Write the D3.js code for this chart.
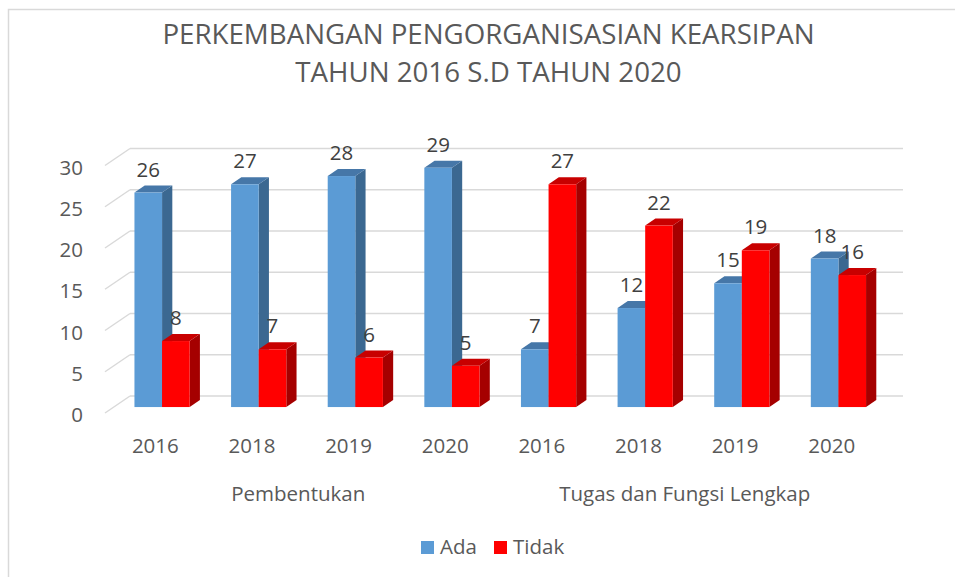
<!DOCTYPE html>
<html><head><meta charset="utf-8">
<script src="https://cdn.jsdelivr.net/npm/d3@7"></script>
<style>
html,body{margin:0;padding:0;background:#fff;}
svg{display:block;}
text{font-family:"Open Sans",sans-serif;}
</style></head>
<body>
<svg id="chart" width="955" height="577"></svg>
<script>
const titleLines = ["PERKEMBANGAN PENGORGANISASIAN KEARSIPAN", "TAHUN 2016 S.D TAHUN 2020"];
const categories = ["2016","2018","2019","2020","2016","2018","2019","2020"];
const groups = ["Pembentukan","Tugas dan Fungsi Lengkap"];
const groupSize = [4,4];
const seriesNames = ["Ada","Tidak"];
const ada = [26,27,28,29,7,12,15,18];
const tidak = [8,7,6,5,27,22,19,16];
const yTicks = [0,5,10,15,20,25,30];

const colors = {
  Ada:   {front:"#5b9bd5", side:"#3b6891", top:"#4677a8"},
  Tidak: {front:"#ff0000", side:"#a50000", top:"#c80000"}
};

const svg = d3.select("#chart");

// outer frame (only top/left visible in the reference)
svg.append("rect").attr("x",8.5).attr("y",9.5).attr("width",960).attr("height",600)
  .attr("fill","none").attr("stroke","#d9d9d9").attr("stroke-width",1.5);

// title
const title = svg.append("g");
titleLines.forEach((t,i)=>{
  title.append("text").attr("x",488.5).attr("y",43.5 + i*38.5)
    .attr("text-anchor","middle").attr("font-size",27.7).attr("fill","#595959").text(t);
});

// 3D geometry
const depth = {dx:25, dy:-17};
const fFront = 0.35, fBack = 0.76;

const x = d3.scaleBand().domain(d3.range(categories.length)).range([105, 878]).padding(0);
const xs = d3.scaleBand().domain(seriesNames).range([0, x.bandwidth()]).paddingInner(0).paddingOuter(0.75);
const y = d3.scaleLinear().domain([0,30]).range([413, 165.5]);

// gridlines on back wall + diagonals on left side wall
const grid = svg.append("g").attr("stroke","#d9d9d9").attr("stroke-width",1.5).attr("fill","none");
yTicks.forEach(v=>{
  grid.append("line")
    .attr("x1",x.range()[0]+depth.dx).attr("x2",x.range()[1]+depth.dx)
    .attr("y1",y(v)+depth.dy).attr("y2",y(v)+depth.dy);
  grid.append("line")
    .attr("x1",x.range()[0]).attr("y1",y(v))
    .attr("x2",x.range()[0]+depth.dx).attr("y2",y(v)+depth.dy);
});

// y axis labels
const yAxis = svg.append("g").attr("transform","translate(105,2)")
  .call(d3.axisLeft(y).tickValues(yTicks).tickSize(0).tickPadding(22));
yAxis.select(".domain").remove();
yAxis.selectAll("text").attr("font-size",20.5).attr("fill","#595959").attr("font-family","'Open Sans',sans-serif");

// x axis labels
const xAxis = svg.append("g").attr("transform","translate(2,413)")
  .call(d3.axisBottom(x).tickFormat(i=>categories[i]).tickSize(0).tickPadding(25));
xAxis.select(".domain").remove();
xAxis.selectAll("text").attr("font-size",20.5).attr("fill","#595959").attr("font-family","'Open Sans',sans-serif");

// group labels
let start = 0;
groups.forEach((g,i)=>{
  const a = x(start), b = x(start+groupSize[i]-1) + x.bandwidth();
  svg.append("text").attr("x",(a+b)/2).attr("y",501).attr("text-anchor","middle")
    .attr("font-size",20.5).attr("fill","#595959").text(g);
  start += groupSize[i];
});

// bars
const data = [];
categories.forEach((c,i)=>{
  data.push({i, s:"Ada", v:ada[i]});
  data.push({i, s:"Tidak", v:tidak[i]});
});
const bx = d => x(d.i) + xs(d.s) + depth.dx*fFront;
const by = v => y(v) + depth.dy*fFront;
const ddx = depth.dx*(fBack-fFront), ddy = depth.dy*(fBack-fFront);
const w = xs.bandwidth();

const bars = svg.append("g");
data.forEach(d=>{
  const x0 = bx(d), yt = by(d.v), yb = by(0);
  const c = colors[d.s];
  const g = bars.append("g");
  g.append("path").attr("fill",c.side)
    .attr("d",`M${x0+w},${yt}L${x0+w+ddx},${yt+ddy}L${x0+w+ddx},${yb+ddy}L${x0+w},${yb}Z`);
  g.append("path").attr("fill",c.top)
    .attr("d",`M${x0},${yt}L${x0+ddx},${yt+ddy}L${x0+w+ddx},${yt+ddy}L${x0+w},${yt}Z`);
  g.append("rect").attr("x",x0).attr("y",yt).attr("width",w).attr("height",yb-yt).attr("fill",c.front);
});

// data labels
svg.append("g").selectAll("text").data(data).join("text")
  .attr("x",d=>bx(d)+w/2).attr("y",d=>by(d.v)-16)
  .attr("text-anchor","middle").attr("font-size",20.5).attr("fill","#404040")
  .text(d=>d.v);

// legend
const legend = svg.append("g");
const legItems = [{s:"Ada", x:421},{s:"Tidak", x:494}];
legItems.forEach(l=>{
  legend.append("rect").attr("x",l.x).attr("y",541).attr("width",13).attr("height",13).attr("fill",colors[l.s].front);
  legend.append("text").attr("x",l.x+19).attr("y",554).attr("font-size",20.5).attr("fill","#595959").text(l.s);
});
</script>
</body></html>
